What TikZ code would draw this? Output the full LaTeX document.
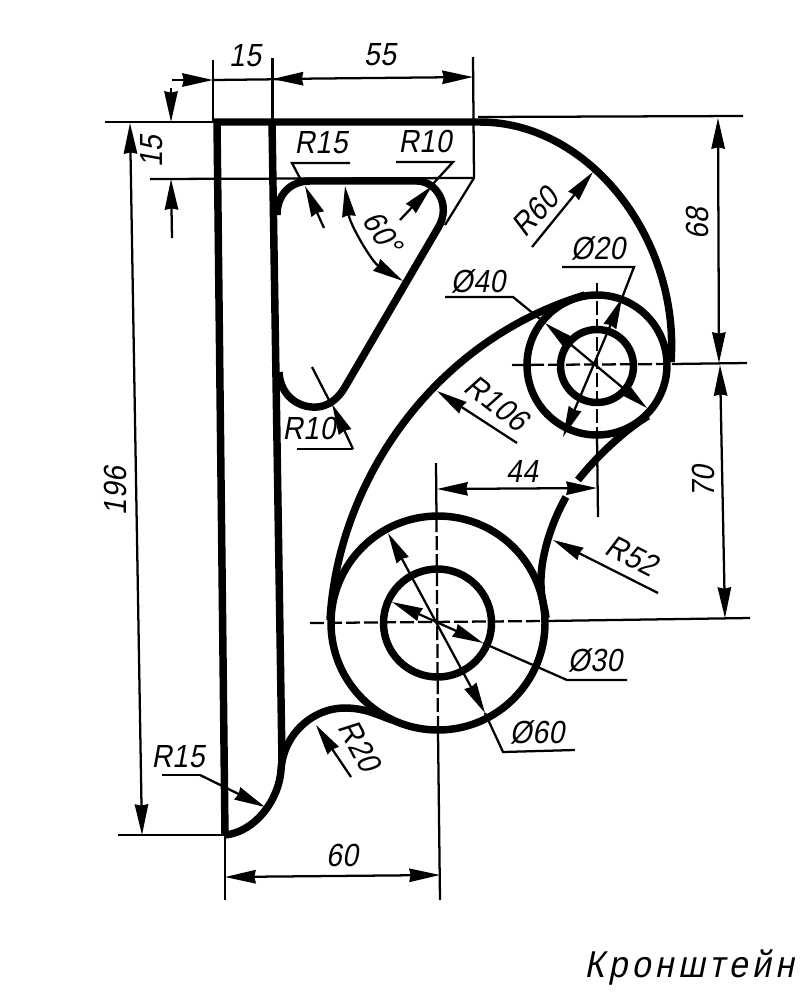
\documentclass[tikz,border=0pt]{standalone}
\usepackage{fontspec}
\usetikzlibrary{arrows.meta}
\newfontfamily\dft[FakeStretch=0.88,FakeSlant=0.18,LetterSpace=2]{Liberation Sans}
\newfontfamily\dftt[FakeStretch=0.9,FakeSlant=0.2,LetterSpace=12]{Liberation Sans}
\tikzset{
  tipk/.tip={Stealth[length=23pt,width=10pt,inset=1pt]},
  prof/.style={line width=5.6pt,line join=miter},
  thn/.style={line width=1.7pt},
  arr/.style={thn,-tipk},
  darr/.style={thn,tipk-tipk},
  ctr/.style={thn,dash pattern=on 10.5pt off 3pt},
  lbl/.style={inner sep=0pt,font=\dft\fontsize{24}{24}\selectfont}
}
\begin{document}
\begin{tikzpicture}[x=0.75pt,y=-0.75pt]
\path[use as bounding box,fill=white] (0,0) rectangle (800,1008);
% extension lines
\draw[thn] (213,60) -- (213,122);
\draw[thn] (272.5,58) -- (272.5,122);
\draw[thn] (473,57) -- (474,178) -- (445,225);
\draw[thn] (105,122) -- (217,122);
\draw[thn] (478,117) -- (743,116);
\draw[thn] (150,179) -- (474,178);
\draw[thn] (118,835) -- (225,835);
\draw[thn] (225,835) -- (225,900);
% profile
\draw[prof] (214,122) -- (480,122) .. controls (590,122) and (680,240) .. (671,362);
\draw[prof] (217,122) -- (225,835);
\draw[prof] (272,122) -- (282,762);
\draw[prof] (225,835) .. controls (255,832) and (279,800) .. (281,770) .. controls (283,735) and (312,708) .. (345,708) .. controls (365,708) and (378,715) .. (392,720);
\draw[prof] (330,620) .. controls (338,480) and (435,340) .. (585,295);
\draw[prof] (648,416) .. controls (625,430) and (598,455) .. (578,480);
\draw[prof] (566,497) .. controls (550,525) and (540,560) .. (541,585) .. controls (541,598) and (545,608) .. (546,618);
\draw[prof] (597,365) circle[radius=70];
\draw[prof] (597,366) circle[radius=36.5];
\draw[prof] (438,623) circle[radius=107];
\draw[prof] (437.5,623) circle[radius=54];
% window
\draw[prof] (277,215) .. controls (277,195) and (290,181) .. (310,181) -- (417,181) .. controls (436,181) and (452,205) .. (438,228) -- (345,387) .. controls (335,404) and (322,408) .. (312,407) .. controls (295,406) and (280,393) .. (279,372);
% centre lines
\draw[ctr] (597,283) -- (597,436);
\draw[thn] (597,436) -- (598,517);
\draw[ctr] (512,365) -- (672,364);
\draw[thn] (672,364) -- (747,363);
\draw[ctr] (310,623) -- (546,621);
\draw[thn] (546,621) -- (750,618);
\draw[thn] (436,463) -- (436.5,518);
\draw[ctr] (436.5,518) -- (438,732);
\draw[thn] (438,732) -- (440,900);
% top dims
\draw[arr] (172,80) -- (213,80);
\draw[thn] (213,80) -- (300,79);
\draw[darr] (272.5,79) -- (473,77);
\draw[arr] (171,88) -- (171,122);
\draw[arr] (172,238) -- (171,179);
\draw[darr] (130,123) -- (142,835);
% window labels
\draw[thn] (350,163) -- (292,163) -- (302,182);
\draw[arr] (324,228) -- (305,186);
\draw[thn] (396,162) -- (453,162) -- (431,186);
\draw[arr] (400,220) -- (432,186);
\draw[darr] (345,186) .. controls (350,225) and (372,262) .. (403,281);
\draw[thn] (312,367) -- (331,404);
\draw[arr] (353,449) -- (332,404);
\draw[thn] (297,449) -- (353,449);
% upper hub labels
\draw[thn] (445,297) -- (513,297) -- (545,323);
\draw[darr] (545,323) -- (647,408);
\draw[thn] (562,267) -- (634,267) -- (622,298);
\draw[darr] (622,298) -- (563,437);
\draw[arr] (532,247) -- (593,172);
\draw[arr] (517,443) -- (437,391);
\draw[darr] (718,118) -- (719,363);
\draw[darr] (720,365) -- (725,618);
\draw[darr] (437,489) -- (597,488);
\draw[arr] (658,593) -- (553,540);
% lower hub labels
\draw[thn] (627,680) -- (567,680) -- (483,643);
\draw[darr] (392,602) -- (483,643);
\draw[thn] (575,750) -- (503,752) -- (485,713);
\draw[darr] (388,533) -- (485,713);
\draw[arr] (351,777) -- (316,725);
\draw[thn] (162,775) -- (200,775);
\draw[arr] (200,775) -- (265,807);
\draw[darr] (225,877) -- (440,875);
% text
\node[lbl] (t15a) at (245,56) {15};
\node[lbl] (t55) at (380,55) {55};
\node[lbl,rotate=90] (t15b) at (152,152) {15};
\node[lbl,rotate=90] (t196) at (115,491) {196};
\node[lbl] (tr15) at (321,143) {R15};
\node[lbl] (tr10a) at (425,141) {R10};
\node[lbl,rotate=-57] (t60d) at (383,233) {60°};
\node[lbl] (tr10b) at (309,428) {R10};
\node[lbl,rotate=47] (tr60) at (535,212) {R60};
\node[lbl] (td20) at (598,248) {Ø20};
\node[lbl] (td40) at (478,281) {Ø40};
\node[lbl,rotate=90] (t68) at (697,224) {68};
\node[lbl,rotate=90] (t70) at (703,482) {70};
\node[lbl,rotate=-38] (tr106) at (497,403) {R106};
\node[lbl] (t44) at (522,471) {44};
\node[lbl,rotate=-27] (tr52) at (632,556) {R52};
\node[lbl] (td30) at (595,660) {Ø30};
\node[lbl] (td60) at (537,732) {Ø60};
\node[lbl,rotate=-62] (tr20) at (360,746) {R20};
\node[lbl] (tr15b) at (178,757) {R15};
\node[lbl] (t60) at (342,855) {60};
\node[inner sep=0pt,anchor=center,font=\dftt\fontsize{28}{28}\selectfont] (title) at (689,968) {Кронштейн};
\end{tikzpicture}
\end{document}
